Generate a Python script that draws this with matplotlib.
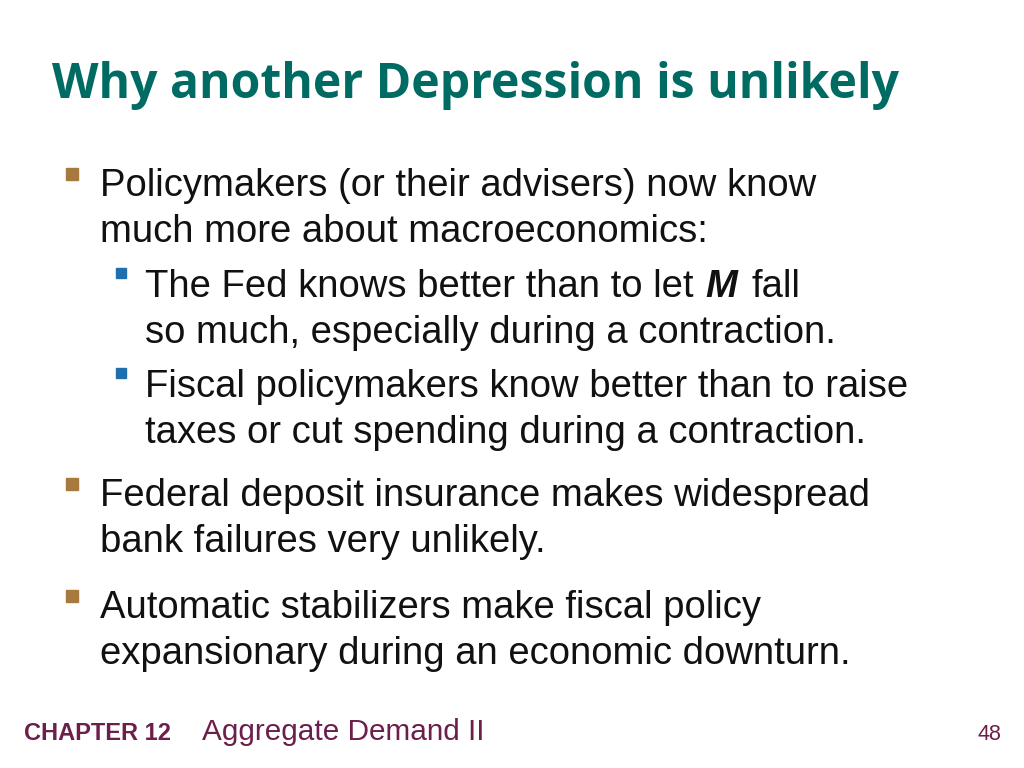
import matplotlib
matplotlib.use("Agg")
import matplotlib.pyplot as plt
from matplotlib.patches import Rectangle

title = "Why another Depression is unlikely"
level1 = [
    (["Policymakers (or their advisers) now know", "much more about macroeconomics:"], 183),
    (["Federal deposit insurance makes widespread", "bank failures very unlikely."], 493),
    (["Automatic stabilizers make fiscal policy", "expansionary during an economic downturn."], 605),
]
level2 = [
    (["The Fed knows better than to let ", "so much, especially during a contraction."], 284),
    (["Fiscal policymakers know better than to raise", "taxes or cut spending during a contraction."], 384),
]
footer_chapter = "CHAPTER 12"
footer_title = "Aggregate Demand II"
page = "48"

W, H = 1024, 768
fig = plt.figure(figsize=(W/100, H/100), dpi=100)
fig.patch.set_facecolor("white")

def P(x, y):
    return x / W, 1 - y / H

body = "Liberation Sans"
fig.text(*P(52, 86), title, fontsize=34.7, fontweight="bold", family="Open Sans",
         color="#006B63", va="center")

for lines, y in level1:
    fig.add_artist(Rectangle((66/W, 1 - (y - 3) / H), 12/W, 12/H,
                             transform=fig.transFigure, color="#A67A3E"))
    for i, l in enumerate(lines):
        fig.text(*P(100, y + 3 + i * 46), l, fontsize=27.5, family=body, color="#111111", va="center")

for lines, y in level2:
    fig.add_artist(Rectangle((116/W, 1 - (y - 6) / H), 10/W, 10/H,
                             transform=fig.transFigure, color="#1F6FAE"))
    for i, l in enumerate(lines):
        fig.text(*P(145, y + 3 + i * 46), l, fontsize=27.5, family=body, color="#111111", va="center")

fig.text(*P(705, 287), "M", fontsize=27.5, family=body, fontweight="bold", style="italic",
         color="#111111", va="center")
fig.text(*P(752, 287), "fall", fontsize=27.5, family=body, color="#111111", va="center")

fig.text(*P(24, 734), footer_chapter, fontsize=17, fontweight="bold", family=body,
         color="#6B1F4A", va="center")
fig.text(*P(202, 732), footer_title, fontsize=21.4, family=body, color="#6B1F4A", va="center")
fig.text(*P(1001, 734), page, fontsize=15.5, family=body, color="#6B1F4A", va="center", ha="right")

fig.savefig("out.png", dpi=100, facecolor="white")
